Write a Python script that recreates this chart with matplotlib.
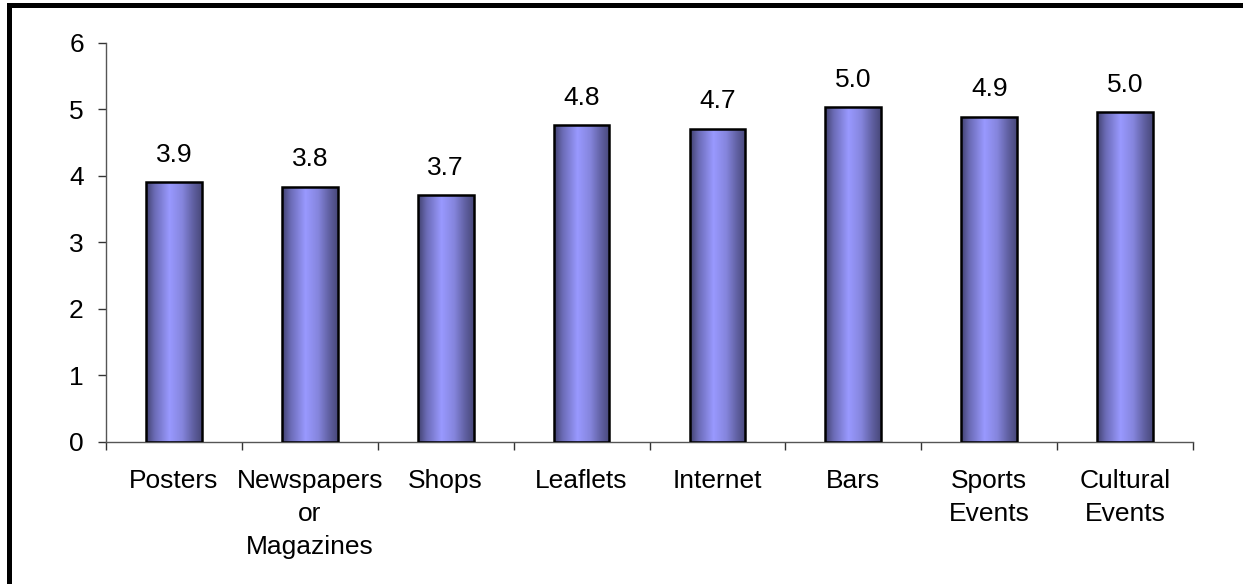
import numpy as np
import matplotlib
matplotlib.use("Agg")
import matplotlib.pyplot as plt
from matplotlib.colors import LinearSegmentedColormap
from matplotlib.patches import Rectangle

categories = ["Posters", "Newspapers\nor\nMagazines", "Shops", "Leaflets",
              "Internet", "Bars", "Sports\nEvents", "Cultural\nEvents"]
values = [3.91, 3.84, 3.71, 4.76, 4.71, 5.04, 4.89, 4.96]
y_ticks = [0, 1, 2, 3, 4, 5, 6]

plt.rcParams["font.family"] = ["Liberation Sans", "DejaVu Sans"]

W, H = 1243, 584
fig = plt.figure(figsize=(W / 100, H / 100), dpi=100)
fig.patch.set_facecolor("white")
ax = fig.add_axes([106 / W, 1 - 441.7 / H, (1193 - 106) / W, (441.7 - 43) / H])

# bar shading: dark edges, light centre
cmap = LinearSegmentedColormap.from_list(
    "barshade",
    [(0.0, "#41416e"), (0.15, "#6a6ab4"), (0.42, "#9999ff"),
     (0.65, "#8585dd"), (0.85, "#5f5fa0"), (1.0, "#48487a")])
grad = np.linspace(0, 1, 256).reshape(1, -1)

FS = 19
x = np.arange(len(categories))
bw = 0.41
bars = ax.bar(x, values, width=bw, facecolor="none", edgecolor="black",
              linewidth=1.8, zorder=3)
for b in bars:
    im = ax.imshow(grad, cmap=cmap, aspect="auto", zorder=2,
                   extent=[b.get_x(), b.get_x() + b.get_width(), 0, b.get_height()])
    im.set_clip_path(b)
    ax.annotate(f"{b.get_height():.1f}", (b.get_x() + b.get_width() / 2, b.get_height()),
                xytext=(0, 11), textcoords="offset points",
                ha="center", va="bottom", fontsize=FS)

ax.set_xlim(-0.5, len(categories) - 0.5)
ax.set_ylim(0, 6)
ax.set_yticks(y_ticks)
ax.set_xticks(x)
ax.set_xticklabels(categories, linespacing=1.45)
ax.set_xticks(np.arange(-0.5, len(categories), 1.0), minor=True)
ax.tick_params(axis="x", which="major", length=0, pad=20, labelsize=FS)
ax.tick_params(axis="x", which="minor", length=6, width=1, color="#333333", direction="out")
ax.tick_params(axis="y", length=6, width=1, color="#333333", pad=10, labelsize=FS)
for s in ["top", "right"]:
    ax.spines[s].set_visible(False)
for s in ["left", "bottom"]:
    ax.spines[s].set_color("#555555")
    ax.spines[s].set_linewidth(1)

# outer frame (left and top edges show in the crop)
fig.add_artist(Rectangle((7 / W, 0), 5 / W, 1 - 3 / H, transform=fig.transFigure,
                         facecolor="black", edgecolor="none"))
fig.add_artist(Rectangle((7 / W, 1 - 8 / H), 1 - 7 / W, 5 / H, transform=fig.transFigure,
                         facecolor="black", edgecolor="none"))

fig.savefig("out.png", dpi=100, facecolor="white")
